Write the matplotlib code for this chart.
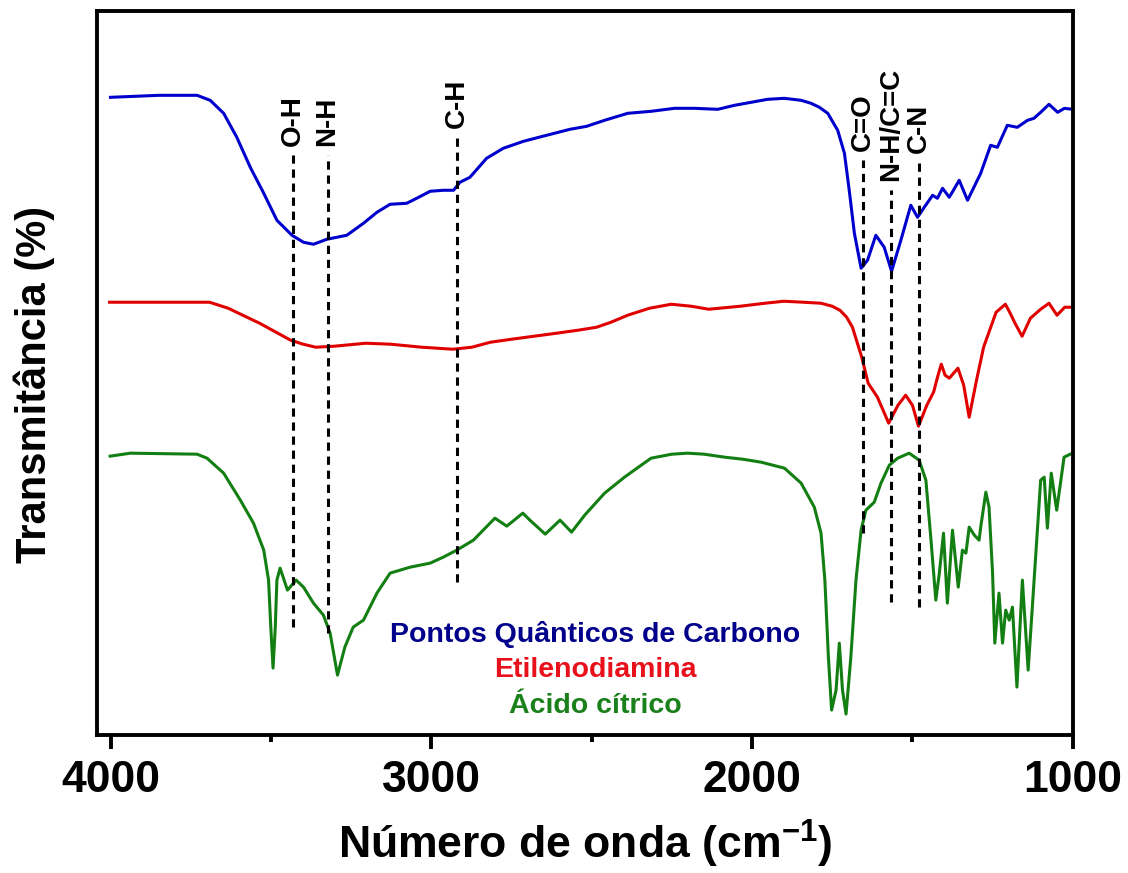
import matplotlib
matplotlib.use("Agg")
import matplotlib.pyplot as plt
from matplotlib.ticker import MultipleLocator

plt.rcParams["font.family"] = ["Liberation Sans", "DejaVu Sans"]
plt.rcParams["font.weight"] = "bold"
plt.rcParams["mathtext.fontset"] = "custom"
plt.rcParams["mathtext.bf"] = "Liberation Sans:bold"
plt.rcParams["mathtext.rm"] = "Liberation Sans:bold"

# Pontos Quânticos de Carbono (blue), offset transmittance in arbitrary units
cqd_wn = [4001, 3850, 3731, 3690, 3648, 3607, 3565, 3523, 3482, 3435, 3399,
          3368, 3326, 3264, 3212, 3170, 3129, 3077, 3046, 3004, 2963,
          2931, 2911, 2880, 2828, 2776, 2713, 2641, 2568, 2516, 2460,
          2388, 2315, 2242, 2180, 2107, 2055, 2003, 1952, 1899, 1847, 1816,
          1790, 1764, 1733, 1712, 1697,
          1681, 1660, 1640, 1614, 1588, 1565, 1536, 1505, 1484, 1463,
          1437, 1422, 1406, 1385, 1354, 1328, 1287, 1256, 1235, 1204,
          1173, 1141, 1121, 1100, 1074, 1047, 1026, 1000]
cqd_t = [638, 640, 640, 635, 622, 598, 568, 542, 515, 500, 493,
         491, 496, 500, 512, 523, 531, 532, 537, 544, 545,
         545, 553, 558, 577, 587, 594, 600, 606, 609, 615,
         622, 624, 627, 627, 626, 630, 633, 636, 637, 635, 632,
         628, 622, 605, 582, 545,
         502, 467, 475, 500, 488, 464, 495, 530, 518, 528,
         540, 537, 547, 538, 555, 535, 562, 590, 588, 610,
         608, 615, 617, 623, 631, 623, 627, 626]

# Etilenodiamina (red)
eda_wn = [4004, 3800, 3692, 3634, 3536, 3439, 3400, 3361, 3303, 3205, 3127, 3030,
          2933, 2874, 2816, 2750, 2680, 2610, 2543, 2485, 2440, 2388, 2320, 2252,
          2190, 2135, 2037, 1960, 1901, 1840, 1785, 1750, 1726, 1705, 1687, 1658,
          1638, 1609, 1574, 1545, 1521, 1500, 1481,
          1455, 1434, 1420, 1410, 1398, 1385, 1358, 1340, 1323, 1300, 1278, 1239,
          1210, 1195, 1180, 1158, 1132, 1100, 1074, 1049, 1025, 1000]
eda_t = [433, 433, 433, 427, 412, 395, 391, 388, 389, 392, 391, 388,
         386, 388, 393, 396, 399, 402, 405, 408, 413, 420, 427, 431,
         429, 426, 429, 432, 434, 433, 432, 429, 425, 418, 408, 378,
         352, 338, 312, 330, 340, 330, 309,
         330, 343, 360, 371, 360, 357, 367, 350, 318, 355, 388, 423,
         431, 422, 412, 399, 417, 426, 432, 420, 428, 428]

# Ácido cítrico (green)
ac_wn = [4002, 3939, 3731, 3700, 3648, 3596, 3555, 3523, 3508, 3501,
         3494, 3487, 3482, 3472, 3449, 3422, 3399, 3368, 3337, 3316,
         3293, 3270, 3244, 3212, 3170, 3129, 3066, 3004, 2963, 2921,
         2869, 2802, 2765, 2715, 2693, 2645, 2599, 2563, 2522, 2460,
         2398, 2350, 2315, 2250, 2201, 2150, 2086, 2030, 1972, 1899, 1847, 1806,
         1785, 1773,
         1762, 1752, 1738, 1728, 1718, 1707, 1692, 1676, 1660, 1645,
         1619, 1598, 1572, 1546, 1510, 1479, 1458, 1442, 1427, 1416,
         1403, 1391, 1375, 1357, 1344, 1333, 1323, 1307, 1292, 1287,
         1271, 1261, 1250, 1243, 1230, 1219, 1209, 1198, 1188, 1174,
         1157, 1139, 1126, 1100, 1089, 1079, 1067, 1050, 1027, 1001]
ac_t = [279, 282, 281, 277, 262, 235, 212, 185, 155, 108,
        67, 108, 155, 167, 145, 155, 148, 132, 120, 102,
        60, 88, 108, 115, 142, 162, 168, 172, 178, 185,
        195, 217, 209, 222, 215, 201, 215, 203, 220, 242,
        258, 269, 277, 281, 282, 281, 278, 276, 273, 267, 252, 228,
        202, 155,
        78, 25, 45, 92, 45, 21, 78, 155, 205, 225,
        233, 252, 270, 277, 282, 275, 255, 195, 135, 162,
        202, 132, 205, 148, 185, 182, 208, 200, 195, 208,
        243, 228, 162, 92, 142, 92, 125, 115, 128, 48,
        155, 65, 128, 255, 258, 207, 262, 225, 278, 282]

# band assignments
band_labels = ["O-H", "N-H", "C-H", "C=O", "N-H/C=C", "C-N"]
band_wn = [3433, 3324, 2921, 1655, 1567, 1479]
band_top = [580, 580, 598, 575, 545, 573]
band_bottom = [108, 102, 153, 202, 133, 128]

series_names = ["Pontos Quânticos de Carbono", "Etilenodiamina", "Ácido cítrico"]
line_colors = ["#0000CC", "#E00000", "#137F13"]
text_colors = ["#00008B", "#E8101A", "#1A801A"]

fig = plt.figure(figsize=(11.28, 8.73), dpi=100)
ax = fig.add_axes([0.086, 0.158, 0.865, 0.829])

for wn, t, c in zip([cqd_wn, eda_wn, ac_wn], [cqd_t, eda_t, ac_t], line_colors):
    ax.plot(wn, t, color=c, linewidth=2.2, solid_joinstyle="round")

for lab, x, top, bot in zip(band_labels, band_wn, band_top, band_bottom):
    ax.plot([x, x], [bot, top], color="black", linewidth=2.2,
            linestyle=(0, (2.7, 1.9)))
    ax.text(x, top + 9, lab, rotation=90, ha="center", va="bottom",
            fontsize=20, fontweight="bold")

for i, (name, c) in enumerate(zip(series_names, text_colors)):
    ax.text(0.511, 0.1395 - i * 0.0495, name, transform=ax.transAxes,
            ha="center", va="center", fontsize=20.5, fontweight="bold", color=c)

ax.set_xlim(4043, 1000)
ax.set_ylim(0, 724)
ax.xaxis.set_major_locator(MultipleLocator(1000))
ax.xaxis.set_minor_locator(MultipleLocator(500))
ax.set_yticks([])
ax.tick_params(axis="x", which="major", direction="out", length=10, width=2.8,
               labelsize=32, pad=8)
ax.tick_params(axis="x", which="minor", direction="out", length=5, width=2.8)
for lbl in ax.get_xticklabels():
    lbl.set_fontweight("bold")
for sp in ax.spines.values():
    sp.set_linewidth(2.8)

ax.set_xlabel("Número de onda (cm$^{\\mathbf{-1}}$)", fontsize=32,
              fontweight="bold", labelpad=12)
ax.set_ylabel("Transmitância (%)", fontsize=30, fontweight="bold")
ax.yaxis.set_label_coords(-0.043, 0.485)

fig.savefig("out.png", dpi=100)
